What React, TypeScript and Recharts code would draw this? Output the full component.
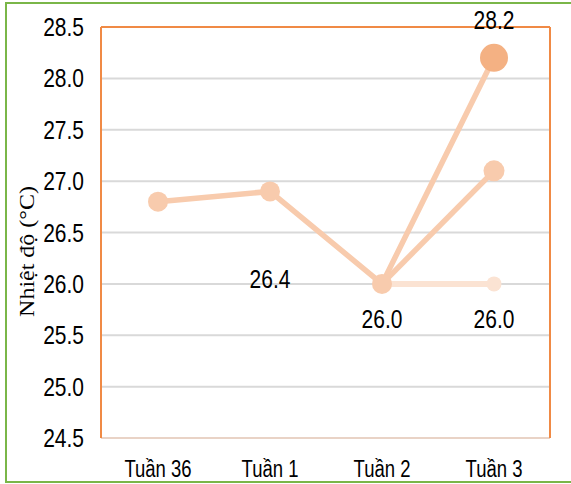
import React from 'react';
import { LineChart, Line, XAxis, YAxis, CartesianGrid, ReferenceDot, ReferenceLine } from 'recharts';

// ---------- data ----------
const categories = ['Tuần 36', 'Tuần 1', 'Tuần 2', 'Tuần 3'];
const mainSeries: (number | null)[] = [26.8, 26.9, 26.0, 28.2];
const branchMid: (number | null)[] = [null, null, 26.0, 27.1];
const branchFlat: (number | null)[] = [null, null, 26.0, 26.0];
const yTicks = [24.5, 25.0, 25.5, 26.0, 26.5, 27.0, 27.5, 28.0, 28.5];
const labelCats = ['Tuần 3', 'Tuần 1', 'Tuần 2', 'Tuần 3'];
const labelTexts = ['28.2', '26.4', '26.0', '26.0'];
const labelAnchors = [28.2, 26.9, 26.0, 26.0];
const axisTitle = 'Nhiệt độ (°C)';

const data = categories.map((c, i) => ({
  cat: c,
  main: mainSeries[i],
  mid: branchMid[i],
  flat: branchFlat[i],
}));

// ---------- styles ----------
const ORANGE = '#F08A45';
const GREEN = '#7AB648';
const PEACH = '#F8CBAD';
const PEACH_DARK = '#F4B183';
const PEACH_LIGHT = '#FBE3D3';
const labelDy = [-38, 88, 35.5, 35.5];
const mainRadii = [10, 10, 10, 14];
const mainFills = [PEACH, PEACH, PEACH, PEACH_DARK];
const midRadii = [0, 0, 0, 10.5];
const flatRadii = [0, 0, 0, 7.5];

const makeDot = (radii: number[], fills: string[]) => (props: any) => {
  const { cx, cy, index } = props;
  const r = radii[index];
  if (!r || cx == null || cy == null) return <g key={`d${index}`} />;
  return <circle key={`d${index}`} cx={cx} cy={cy} r={r} fill={fills[index]} stroke="none" />;
};

const StretchText = ({ x, y, text, size, sx = 1, sy = 1.2, anchor = 'middle', family = 'Liberation Sans, Arial, sans-serif' }: any) => (
  <text
    transform={`translate(${x},${y}) scale(${sx},${sy})`}
    textAnchor={anchor}
    dy="0.358em"
    fontSize={size}
    fontFamily={family}
    fill="#000"
  >
    {text}
  </text>
);

const YTick = (props: any) => {
  const { x, y, payload } = props;
  return <StretchText x={x} y={y} text={Number(payload.value).toFixed(1)} size={21} anchor="end" />;
};

const XTick = (props: any) => {
  const { x, y, payload } = props;
  return (
    <text
      transform={`translate(${x},${y}) scale(1,1.3)`}
      textAnchor="middle"
      y={30}
      fontSize={18.5}
      fontFamily="Liberation Sans, Arial, sans-serif"
      fill="#000"
    >
      {payload.value}
    </text>
  );
};

const TitleLabel = (props: any) => {
  const vb = props.viewBox || { x: 0, y: 27, width: 101, height: 411 };
  const cx = vb.x + 27;
  const cy = vb.y + vb.height / 2 + 19;
  return (
    <text
      transform={`translate(${cx},${cy}) rotate(-90) scale(1.2,1)`}
      textAnchor="middle"
      dominantBaseline="central"
      fontSize={20}
      fontFamily="Liberation Serif, Times New Roman, serif"
      fill="#000"
    >
      {axisTitle}
    </text>
  );
};

export default function App() {
  return (
    <div style={{ position: 'absolute', left: 0, top: 0, width: 571, height: 484, background: '#fff', overflow: 'hidden' }}>
      <div
        style={{
          position: 'absolute',
          left: 5,
          top: 2,
          width: 700,
          height: 481,
          border: `2px solid ${GREEN}`,
          boxSizing: 'border-box',
        }}
      />
      <div style={{ position: 'absolute', left: 0, top: 0 }}>
        <LineChart width={571} height={484} data={data} margin={{ top: 26, right: 20, bottom: 0, left: 0 }}>
          <CartesianGrid vertical={false} stroke="#D9D9D9" strokeWidth={2} />
          <XAxis
            dataKey="cat"
            height={46}
            padding={{ left: 57, right: 56 }}
            tickLine={false}
            tickSize={0}
            tickMargin={0}
            axisLine={{ stroke: '#E9D3C6', strokeWidth: 2 }}
            tick={<XTick />}
            interval={0}
          />
          <XAxis
            xAxisId="top"
            orientation="top"
            dataKey="cat"
            height={1}
            padding={{ left: 57, right: 56 }}
            tick={false}
            tickLine={false}
            axisLine={{ stroke: ORANGE, strokeWidth: 2 }}
          />
          <YAxis
            width={101}
            domain={[24.5, 28.5]}
            ticks={yTicks}
            interval={0}
            tickLine={false}
            tickSize={0}
            tickMargin={17}
            axisLine={{ stroke: ORANGE, strokeWidth: 2 }}
            tick={<YTick />}
            label={{ content: (p: any) => <TitleLabel {...p} /> }}
          />
          <YAxis
            yAxisId="right"
            orientation="right"
            width={1}
            domain={[24.5, 28.5]}
            ticks={yTicks}
            tick={false}
            tickLine={false}
            axisLine={{ stroke: ORANGE, strokeWidth: 2 }}
          />
          <ReferenceLine y={28.5} stroke={ORANGE} strokeWidth={2} ifOverflow="visible" />
          <Line
            dataKey="main"
            type="linear"
            stroke={PEACH}
            strokeWidth={5.5}
            dot={makeDot(mainRadii, mainFills)}
            activeDot={false}
            isAnimationActive={false}
          />
          <Line
            dataKey="mid"
            type="linear"
            stroke={PEACH}
            strokeWidth={5.5}
            dot={makeDot(midRadii, [PEACH, PEACH, PEACH, PEACH])}
            activeDot={false}
            isAnimationActive={false}
          />
          <Line
            dataKey="flat"
            type="linear"
            stroke={PEACH_LIGHT}
            strokeWidth={6}
            dot={makeDot(flatRadii, [PEACH_LIGHT, PEACH_LIGHT, PEACH_LIGHT, PEACH_LIGHT])}
            activeDot={false}
            isAnimationActive={false}
          />
          {labelTexts.map((t, i) => (
            <ReferenceDot
              key={`lab${i}`}
              x={labelCats[i]}
              y={labelAnchors[i]}
              r={0}
              fill="none"
              stroke="none"
              ifOverflow="visible"
              label={{
                content: (p: any) => {
                  const vb = p.viewBox || { x: 0, y: 0, width: 0, height: 0 };
                  return (
                    <StretchText
                      x={vb.x + (vb.width || 0) / 2}
                      y={vb.y + (vb.height || 0) / 2 + labelDy[i]}
                      text={t}
                      size={21}
                    />
                  );
                },
              }}
            />
          ))}
        </LineChart>
      </div>
    </div>
  );
}
